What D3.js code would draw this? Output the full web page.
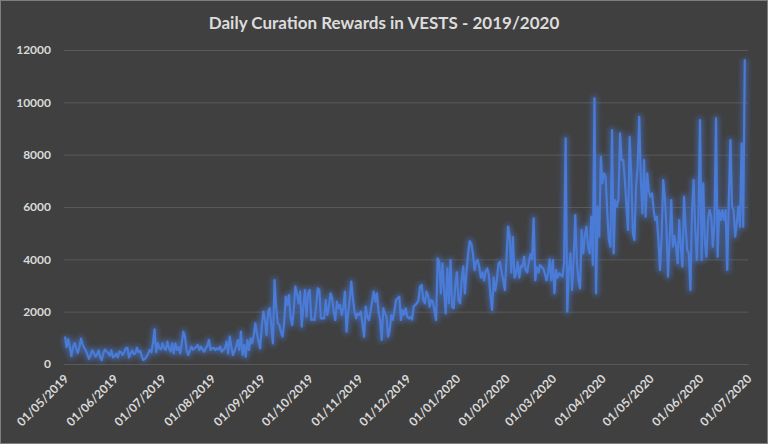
<!doctype html>
<html>
<head>
  <meta charset="utf-8">
  <style>
    body { margin: 0; background: #404040; }
    svg { display: block; }
    .tick text { fill: #d9d9d9; font-family: Lato, "Open Sans", sans-serif; font-size: 12px; }
  </style>
  <script src="https://cdn.jsdelivr.net/npm/d3@7"></script>
</head>
<body>
<script>
  // daily values, one array per month (VESTS)
  var may19 = [1050, 650, 950, 650, 300, 650, 800, 600, 420, 650, 970, 750, 620, 520, 360, 200, 330, 520, 430, 280, 350, 520, 250, 150, 420, 550, 480, 420, 320, 520, 250];
  var jun19 = [300, 400, 250, 480, 450, 350, 450, 600, 620, 250, 400, 520, 380, 400, 620, 450, 500, 281, 154, 200, 281, 400, 536, 450, 800, 1325, 450, 800, 600, 560];
  var jul19 = [790, 600, 536, 854, 600, 472, 790, 408, 790, 536, 650, 408, 800, 1236, 1045, 536, 345, 500, 663, 550, 599, 650, 726, 535, 662, 550, 471, 600, 700, 917, 535];
  var aug19 = [600, 620, 535, 600, 560, 662, 471, 540, 599, 853, 408, 1044, 662, 344, 500, 662, 917, 535, 1235, 344, 726, 280, 917, 535, 981, 790, 1100, 1554, 1172, 853, 599];
  var sep19 = [1426, 2000, 1681, 1108, 2000, 2127, 1426, 790, 3208, 2190, 1554, 1490, 1235, 1044, 1554, 2573, 2254, 2636, 1800, 1490, 2063, 2954, 2700, 2318, 2763, 1426, 2190, 2827, 1808, 2700];
  var oct19 = [2827, 1681, 1700, 1681, 2200, 2890, 2827, 1745, 1750, 1745, 2445, 1872, 2190, 2700, 2510, 2000, 1682, 2382, 2128, 2255, 1873, 2128, 2764, 1237, 1937, 2446, 3146, 2510, 2000, 1746, 1937];
  var nov19 = [1873, 2000, 1500, 1045, 2191, 1809, 1682, 2000, 2400, 2764, 2382, 2700, 2000, 1682, 918, 2128, 1937, 1809, 1045, 1300, 1873, 1682, 2064, 2446, 2510, 2573, 1682, 2064, 1873, 2128];
  var dec19 = [1800, 1746, 1800, 1700, 2200, 2255, 2319, 2446, 2955, 3019, 2446, 2319, 2764, 2637, 2191, 2446, 2382, 2000, 1682, 4037, 3900, 2700, 3846, 2828, 1937, 3655, 2319, 3973, 2191, 2128, 3000];
  var jan20 = [3500, 2446, 2319, 3210, 3719, 2700, 3500, 4200, 4700, 4600, 4230, 3593, 3911, 3975, 3700, 3300, 3500, 3200, 3550, 3650, 3400, 2600, 2065, 3300, 2800, 3200, 3850, 3900, 3500, 3200, 2830];
  var feb20 = [4000, 5248, 4900, 3500, 4850, 3300, 3450, 3900, 3300, 3750, 3700, 4100, 3600, 3500, 3900, 4200, 4000, 5566, 3200, 3700, 3500, 3780, 3720, 3650, 3460, 3200, 3460, 4000, 3200];
  var mar20 = [3975, 2702, 3593, 3300, 3466, 3400, 3338, 3848, 8621, 2002, 3600, 4230, 2830, 4000, 5693, 3900, 3200, 2893, 5120, 4230, 4900, 5248, 4484, 4230, 5630, 3784, 10149, 2702, 6012, 4866, 7921];
  var apr20 = [6903, 7285, 7158, 5800, 4740, 4485, 8940, 4230, 6266, 6012, 6266, 8813, 7794, 7794, 7030, 6012, 5121, 8685, 7285, 4994, 4739, 6776, 7539, 9449, 7030, 5758, 7794, 5630, 7285, 6600];
  var may20 = [6394, 6521, 5885, 5503, 5630, 4739, 3593, 4866, 7030, 6394, 5248, 3338, 4739, 6266, 4484, 4900, 4484, 3848, 5503, 4484, 3720, 6394, 5248, 4357, 4230, 2830, 5885, 7030, 5121, 3975, 5503];
  var jun20 = [9322, 3975, 6903, 4739, 4103, 5503, 5885, 5630, 4484, 5376, 9385, 4103, 5885, 5500, 5885, 5503, 5885, 3593, 6266, 8558, 6012, 5885, 4866, 5376, 6012, 5248, 8430, 5248, 11650];

  var values = [].concat(may19, jun19, jul19, aug19, sep19, oct19, nov19, dec19,
                         jan20, feb20, mar20, apr20, may20, jun20);
  var startDate = new Date(2019, 4, 1);
  var data = values.map(function(v, i) {
    return { date: d3.timeDay.offset(startDate, i), value: v };
  });

  var yTicks = [0, 2000, 4000, 6000, 8000, 10000, 12000];
  var xTicks = d3.timeMonth.range(new Date(2019, 4, 1), new Date(2020, 6, 2));

  var svgW = 768, svgH = 444;
  var plotL = 64, plotR = 748, plotT = 50, plotB = 364;

  var svg = d3.select("body").append("svg")
    .attr("width", svgW)
    .attr("height", svgH);

  svg.append("rect")
    .attr("x", 0.5).attr("y", 0.5)
    .attr("width", svgW - 1).attr("height", svgH - 1)
    .attr("fill", "#404040")
    .attr("stroke", "#7f7f7f");

  var defs = svg.append("defs");
  defs.append("filter").attr("id", "glow")
    .attr("x", "-10%").attr("y", "-10%").attr("width", "120%").attr("height", "120%")
    .append("feGaussianBlur").attr("stdDeviation", 2.8);

  var x = d3.scaleTime()
    .domain([new Date(2019, 4, 1), new Date(2020, 6, 1)])
    .range([plotL + 1, plotR]);

  var y = d3.scaleLinear()
    .domain([0, 12000])
    .range([plotB, plotT]);

  // y axis with gridlines
  var yAxis = svg.append("g")
    .attr("transform", "translate(" + plotL + ",0)")
    .call(d3.axisLeft(y).tickValues(yTicks).tickFormat(d3.format("d"))
      .tickSize(-(plotR - plotL)).tickPadding(13));
  yAxis.select(".domain").remove();
  yAxis.selectAll(".tick line").attr("stroke", "#595959");
  yAxis.selectAll("text").style("font-weight", "bold").attr("fill", "#cfcfcf");

  // x axis, rotated labels
  var xAxis = svg.append("g")
    .attr("transform", "translate(0," + plotB + ")")
    .call(d3.axisBottom(x).tickValues(xTicks).tickSize(0).tickFormat(d3.timeFormat("%d/%m/%Y")));
  xAxis.select(".domain").attr("stroke", "#595959");
  xAxis.selectAll("text")
    .attr("text-anchor", "end")
    .attr("transform", "rotate(-45)")
    .attr("dx", "-0.7em")
    .attr("dy", "0.9em")
    .style("font-weight", "bold")
    .attr("fill", "#cfcfcf");

  var line = d3.line()
    .x(function(d) { return x(d.date); })
    .y(function(d) { return y(d.value); });

  // glow underneath
  svg.append("path")
    .datum(data)
    .attr("d", line)
    .attr("fill", "none")
    .attr("stroke", "#4472c4")
    .attr("stroke-opacity", 0.6)
    .attr("stroke-width", 6)
    .attr("stroke-linejoin", "round")
    .attr("filter", "url(#glow)");

  svg.append("path")
    .datum(data)
    .attr("d", line)
    .attr("fill", "none")
    .attr("stroke", "#4a7bd6")
    .attr("stroke-width", 2.2)
    .attr("stroke-linejoin", "round");

  svg.append("text")
    .attr("x", 384)
    .attr("y", 29)
    .attr("text-anchor", "middle")
    .attr("fill", "#dcdcdc")
    .style("font-family", "Lato, 'Open Sans', sans-serif")
    .style("font-size", "17px")
    .style("font-weight", "bold")
    .text("Daily Curation Rewards in VESTS - 2019/2020");
</script>
</body>
</html>
